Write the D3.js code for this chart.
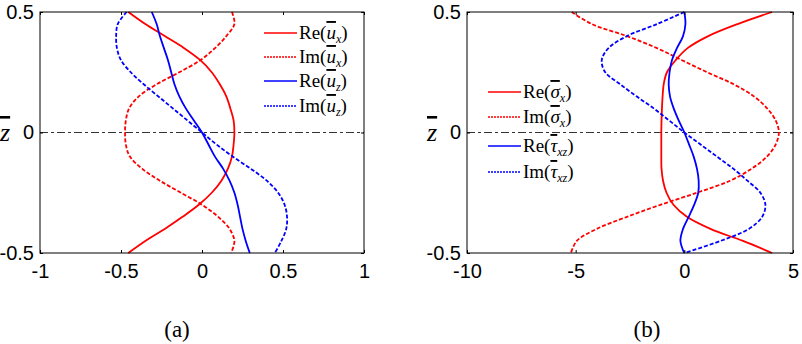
<!DOCTYPE html>
<html>
<head>
<meta charset="utf-8">
<script src="https://cdn.jsdelivr.net/npm/d3@7"></script>
<style>
  body { margin: 0; background: #fff; }
  svg { display: block; }
  .tick text { font-family: "Liberation Sans", Arial, sans-serif; font-size: 20px; fill: #000; }
  .lg { font-family: "Liberation Serif", "Times New Roman", serif; font-size: 19px; }
</style>
</head>
<body>
<svg id="chart" width="802" height="344"></svg>
<script>
// depth coordinate, top to bottom
let zVals = [0.5, 0.45, 0.4, 0.35, 0.3, 0.25, 0.2, 0.15, 0.1, 0.05, 0,
             -0.05, -0.1, -0.15, -0.2, -0.25, -0.3, -0.35, -0.4, -0.45, -0.5];

// panel (a): displacements
let reUx = [-0.455, -0.35, -0.23, -0.11, -0.01, 0.06, 0.11, 0.15, 0.175, 0.195, 0.2,
            0.195, 0.185, 0.16, 0.12, 0.06, -0.02, -0.12, -0.23, -0.35, -0.455];
let imUx = [0.185, 0.2, 0.15, 0.08, -0.01, -0.14, -0.28, -0.39, -0.45, -0.47, -0.475,
            -0.47, -0.445, -0.37, -0.26, -0.13, 0.0, 0.1, 0.17, 0.2, 0.18];
let reUz = [-0.31, -0.28, -0.26, -0.235, -0.21, -0.19, -0.17, -0.14, -0.1, -0.05, 0,
            0.04, 0.08, 0.13, 0.17, 0.2, 0.22, 0.235, 0.25, 0.27, 0.295];
let imUz = [-0.465, -0.52, -0.53, -0.525, -0.5, -0.44, -0.36, -0.27, -0.18, -0.09, 0,
            0.09, 0.19, 0.3, 0.4, 0.47, 0.51, 0.525, 0.52, 0.49, 0.45];

// panel (b): stresses
let reSx = [4.04, 2.45, 1.1, 0.15, -0.4, -0.8, -0.95, -1.0, -1.03, -1.05, -1.06,
            -1.06, -1.06, -1.05, -0.98, -0.82, -0.5, 0.12, 1.2, 2.7, 4.04];
let imSx = [-5.18, -4.26, -2.64, -1.26, -0.11, 1.05, 2.27, 3.2, 3.81, 4.2, 4.35,
            4.2, 3.8, 3.1, 2.1, 0.58, -1.1, -2.64, -4.03, -4.95, -5.22];
let reTxz = [0, 0.05, -0.06, -0.34, -0.57, -0.68, -0.72, -0.66, -0.49, -0.26, 0,
             0.22, 0.43, 0.58, 0.66, 0.64, 0.45, 0.2, -0.06, -0.18, 0];
let imTxz = [0, -1.26, -2.64, -3.49, -3.8, -3.64, -2.95, -2.2, -1.41, -0.7, 0,
             0.75, 1.5, 2.25, 2.9, 3.5, 3.73, 3.58, 2.97, 1.66, 0];

let xTicksA = [-1, -0.5, 0, 0.5, 1];
let xTicksB = [-10, -5, 0, 5];
let yTicks = [-0.5, 0, 0.5];

let RED = "#ff0000", BLUE = "#0000ff";

let svg = d3.select("#chart");

function plainNum(d) { return String(d); } // hyphen minus, like the original

function drawPanel(cfg) {
    let x = d3.scaleLinear().domain(cfg.xDomain).range([cfg.left, cfg.right]);
    let y = d3.scaleLinear().domain([-0.5, 0.5]).range([253, 12]);
    let g = svg.append("g");

    // zero line (dash-dot)
    g.append("line")
        .attr("x1", x.range()[0]).attr("x2", x.range()[1])
        .attr("y1", y(0)).attr("y2", y(0))
        .attr("stroke", "#333").attr("stroke-width", 1.2)
        .attr("stroke-dasharray", "8,3,3,3");

    let line = d3.line()
        .x(function(d) { return x(d[0]); })
        .y(function(d) { return y(d[1]); })
        .curve(d3.curveCatmullRom);

    cfg.series.forEach(function(s) {
        let pts = s.values.map(function(v, i) { return [v, zVals[i]]; });
        g.append("path")
            .attr("d", line(pts))
            .attr("fill", "none")
            .attr("stroke", s.color)
            .attr("stroke-width", 1.8)
            .attr("stroke-dasharray", s.dashed ? "4,2" : null);
    });

    // axes with inward ticks
    g.append("g").attr("transform", "translate(0,253)")
        .call(d3.axisBottom(x).tickValues(cfg.xTicks).tickSizeInner(-3).tickSizeOuter(0).tickFormat(plainNum))
        .call(function(a) { a.select(".domain").remove(); a.selectAll("text").attr("dy", "0.71em").attr("y", 11); });
    g.append("g").attr("transform", "translate(0,12)")
        .call(d3.axisTop(x).tickValues(cfg.xTicks).tickSizeInner(-3).tickSizeOuter(0).tickFormat(""))
        .call(function(a) { a.select(".domain").remove(); });
    g.append("g").attr("transform", "translate(" + cfg.left + ",0)")
        .call(d3.axisLeft(y).tickValues(yTicks).tickSizeInner(-3).tickSizeOuter(0).tickPadding(6).tickFormat(plainNum))
        .call(function(a) { a.select(".domain").remove(); });
    g.append("g").attr("transform", "translate(" + cfg.right + ",0)")
        .call(d3.axisRight(y).tickValues(yTicks).tickSizeInner(-3).tickSizeOuter(0).tickFormat(""))
        .call(function(a) { a.select(".domain").remove(); });
    g.selectAll(".tick line").attr("stroke", "#000");

    g.append("rect")
        .attr("x", cfg.left).attr("y", 12)
        .attr("width", cfg.right - cfg.left).attr("height", 241)
        .attr("fill", "none").attr("stroke", "#000").attr("stroke-width", 1);

    // y label: z with overbar
    g.append("text")
        .attr("x", cfg.zLabelX).attr("y", 141)
        .attr("font-family", "Liberation Serif, serif")
        .attr("font-style", "italic")
        .attr("font-size", 26)
        .attr("text-decoration", "overline")
        .text("z");

    // legend
    cfg.series.forEach(function(s, i) {
        let ly = cfg.legendY[i];
        g.append("line")
            .attr("x1", cfg.legendX).attr("x2", cfg.legendX + 33)
            .attr("y1", ly).attr("y2", ly)
            .attr("stroke", s.color).attr("stroke-width", 1.3)
            .attr("stroke-dasharray", s.dashed ? "2,1" : null);
        let t = g.append("text").attr("class", "lg")
            .attr("x", cfg.legendX + 35).attr("y", ly + 6);
        t.append("tspan").text(s.part + "(");
        t.append("tspan").attr("font-style", "italic").attr("text-decoration", "overline").text(s.sym);
        t.append("tspan").attr("font-style", "italic").attr("font-size", 12).attr("dy", 4).text(s.sub);
        t.append("tspan").attr("dy", -4).text(")");
    });

    svg.append("text")
        .attr("x", cfg.capX).attr("y", 337)
        .attr("text-anchor", "middle")
        .attr("font-family", "Liberation Serif, serif")
        .attr("font-size", 23)
        .text(cfg.caption);
}

drawPanel({
    xDomain: [-1, 1], left: 40, right: 364, xTicks: xTicksA,
    zLabelX: 0, legendX: 264, legendY: [33, 57, 81, 106],
    caption: "(a)", capX: 177,
    series: [
        {values: reUx, color: RED, dashed: false, part: "Re", sym: "u", sub: "x"},
        {values: imUx, color: RED, dashed: true, part: "Im", sym: "u", sub: "x"},
        {values: reUz, color: BLUE, dashed: false, part: "Re", sym: "u", sub: "z"},
        {values: imUz, color: BLUE, dashed: true, part: "Im", sym: "u", sub: "z"}
    ]
});

drawPanel({
    xDomain: [-10, 5], left: 467, right: 793, xTicks: xTicksB,
    zLabelX: 427, legendX: 488, legendY: [92, 117, 146, 172],
    caption: "(b)", capX: 647,
    series: [
        {values: reSx, color: RED, dashed: false, part: "Re", sym: "\u03c3", sub: "x"},
        {values: imSx, color: RED, dashed: true, part: "Im", sym: "\u03c3", sub: "x"},
        {values: reTxz, color: BLUE, dashed: false, part: "Re", sym: "\u03c4", sub: "xz"},
        {values: imTxz, color: BLUE, dashed: true, part: "Im", sym: "\u03c4", sub: "xz"}
    ]
});
</script>
</body>
</html>
